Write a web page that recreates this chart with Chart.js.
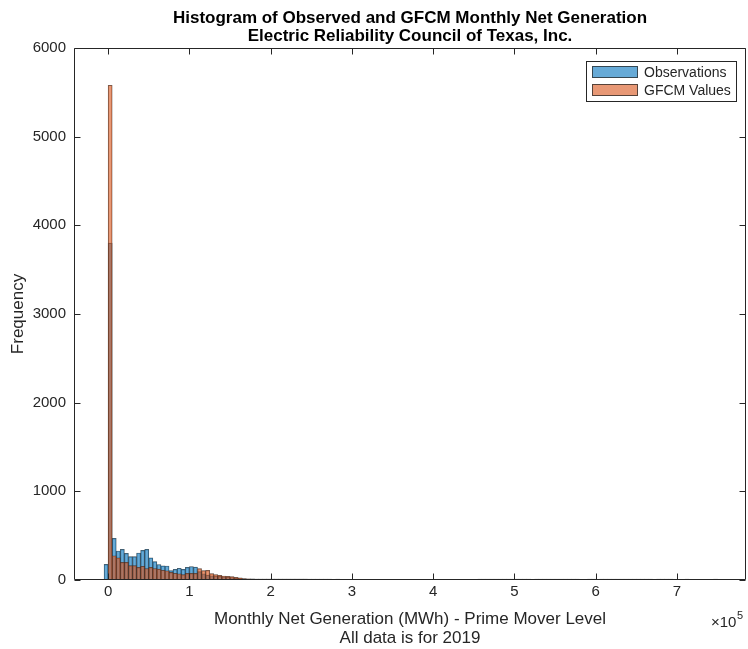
<!DOCTYPE html>
<html>
<head>
<meta charset="utf-8">
<title>Histogram of Observed and GFCM Monthly Net Generation</title>
<script src="https://cdn.jsdelivr.net/npm/chart.js@4.4.0/dist/chart.umd.min.js"></script>
<style>
  html, body { margin: 0; padding: 0; background: #fff; }
  #chart { display: block; }
</style>
</head>
<body>
<canvas id="chart" width="748" height="649"></canvas>
<script>
(function () {
    "use strict";

    // Histogram bins: 5000 MWh wide, the first one starts at -5000
    var binStart = -5000;
    var binWidth = 5000;

    // Counts per bin
    var obsCounts = [
        177, 3800, 470, 327, 346, 301, 263, 263, 305, 335,
        346, 250, 207, 175, 160, 158, 105, 120, 133, 120,
        142, 152, 146, 95, 70, 55, 48, 42, 40, 35,
        33, 28, 22, 16, 12, 10, 9, 8, 7, 6,
        6, 6, 5, 5, 5, 4, 4, 3, 3, 2,
        0, 0, 0, 0, 0, 0, 0, 0, 0, 0,
        0, 0, 0, 0, 0, 0, 0, 0, 0, 0,
        0, 0, 0, 0, 0, 0, 0, 0, 0, 0,
        0, 0, 0, 0, 0, 0, 0, 0, 0, 0,
        0, 0, 1, 1, 1, 1, 1, 1, 1, 1,
        1, 1, 1, 1, 1, 0, 1, 1, 1, 1,
        1, 1, 1, 1, 1, 1, 1, 0, 0, 1,
        1, 0, 1, 1, 1, 1, 1, 1, 1, 1,
        1, 1, 1, 1, 1, 0, 1, 1, 1, 1,
        0, 0, 0, 1, 0, 0, 0, 0, 0, 0,
        1, 0
    ];
    var gfcmCounts = [
        0, 5580, 274, 250, 198, 198, 163, 163, 143, 155,
        130, 143, 130, 122, 110, 104, 86, 76, 70, 60,
        75, 75, 75, 128, 105, 108, 72, 60, 53, 45,
        40, 38, 30, 24, 17, 14, 12, 10, 10, 9,
        9, 10, 9, 10, 9, 8, 9, 8, 7, 5,
        3, 2, 2, 1, 1, 1, 0, 1, 0, 0
    ];

    var seriesNames = ["Observations", "GFCM Values"];
    var xTicks = [0, 100000, 200000, 300000, 400000, 500000, 600000, 700000];
    var yTicks = [0, 1000, 2000, 3000, 4000, 5000, 6000];

    var FONT = "'Liberation Sans', Arial, Helvetica, sans-serif";
    var TEXT = "#262626";
    var blueFill = "rgba(0, 114, 189, 0.6)";
    var orangeFill = "rgba(217, 83, 25, 0.6)";
    var edge = "rgba(38, 38, 38, 0.75)";

    function toPoints(counts) {
        var pts = [];
        counts.forEach(function (c, i) {
            if (c > 0) {
                pts.push({x: binStart + binWidth * (i + 0.5), y: c});
            }
        });
        return pts;
    }

    function fixedTicks(list) {
        return function (s) {
            s.ticks = list.map(function (v) { return {value: v}; });
        };
    }

    // Box, inward ticks, legend and the x10^5 exponent
    var matlabAxes = {
        id: "matlabAxes",
        afterDatasetsDraw: function (chart) {
            var ctx = chart.ctx;
            var a = chart.chartArea;
            var sx = chart.scales.x, sy = chart.scales.y;
            var L = Math.round(a.left) + 0.5, R = Math.round(a.right) - 0.5;
            var T = Math.round(a.top) + 0.5, B = Math.round(a.bottom) - 0.5;
            var tl = 6;
            ctx.save();
            ctx.strokeStyle = TEXT;
            ctx.lineWidth = 1;
            ctx.beginPath();
            ctx.rect(L, T, R - L, B - T);
            xTicks.forEach(function (v) {
                var px = Math.round(sx.getPixelForValue(v)) + 0.5;
                ctx.moveTo(px, B); ctx.lineTo(px, B - tl);
                ctx.moveTo(px, T); ctx.lineTo(px, T + tl);
            });
            yTicks.forEach(function (v) {
                var py = Math.round(sy.getPixelForValue(v)) + 0.5;
                ctx.moveTo(L, py); ctx.lineTo(L + tl, py);
                ctx.moveTo(R, py); ctx.lineTo(R - tl, py);
            });
            ctx.stroke();
            ctx.restore();
        },
        afterDraw: function (chart) {
            var ctx = chart.ctx;
            var a = chart.chartArea;
            ctx.save();

            // legend
            var lx = 586.5, ly = 61.5, lw = 150, lh = 40;
            ctx.fillStyle = "#fff";
            ctx.fillRect(lx, ly, lw, lh);
            ctx.strokeStyle = TEXT;
            ctx.lineWidth = 1;
            ctx.strokeRect(lx, ly, lw, lh);
            var fills = [blueFill, orangeFill];
            ctx.font = "14px " + FONT;
            ctx.textBaseline = "middle";
            ctx.textAlign = "left";
            seriesNames.forEach(function (name, i) {
                var ry = 72 + i * 18;
                ctx.fillStyle = fills[i];
                ctx.fillRect(592, ry - 6, 46, 12);
                ctx.strokeStyle = edge;
                ctx.strokeRect(592.5, ry - 5.5, 45, 11);
                ctx.fillStyle = TEXT;
                ctx.fillText(name, 644, ry + 1);
            });

            // exponent of the x axis
            ctx.fillStyle = TEXT;
            ctx.textAlign = "left";
            ctx.textBaseline = "alphabetic";
            ctx.font = "15px " + FONT;
            ctx.fillText("\u00d710", a.right - 35, 627);
            ctx.font = "11px " + FONT;
            ctx.fillText("5", a.right - 9, 619);
            ctx.restore();
        }
    };

    var ctx = document.getElementById("chart").getContext("2d");
    var myChart = new Chart(ctx, {
        type: "bar",
        data: {
            datasets: [
                {
                    label: seriesNames[0],
                    data: toPoints(obsCounts),
                    backgroundColor: blueFill,
                    borderColor: edge,
                    borderWidth: 0.5,
                    minBarLength: 1,
                    order: 1
                },
                {
                    label: seriesNames[1],
                    data: toPoints(gfcmCounts),
                    backgroundColor: orangeFill,
                    borderColor: edge,
                    borderWidth: 0.5,
                    minBarLength: 1,
                    order: 0
                }
            ]
        },
        options: {
            responsive: false,
            animation: false,
            devicePixelRatio: 1,
            grouped: false,
            barPercentage: 1,
            categoryPercentage: 1,
            layout: {padding: {left: 0, right: 2, top: 0, bottom: 0}},
            plugins: {
                legend: {display: false},
                tooltip: {enabled: false},
                title: {
                    display: true,
                    fullSize: false,
                    text: ["Histogram of Observed and GFCM Monthly Net Generation",
                           "Electric Reliability Council of Texas, Inc."],
                    color: "#000",
                    font: {family: FONT, size: 17, weight: "bold", lineHeight: 1.1},
                    padding: {top: 8.6, bottom: 2}
                }
            },
            scales: {
                x: {
                    type: "linear",
                    offset: false,
                    min: -42000,
                    max: 785000,
                    grid: {drawOnChartArea: false, drawTicks: false, offset: false},
                    border: {display: false},
                    afterFit: function (s) { s.height = 69; },
                    afterBuildTicks: fixedTicks(xTicks),
                    ticks: {
                        padding: 3,
                        color: TEXT,
                        font: {family: FONT, size: 15},
                        maxRotation: 0,
                        autoSkip: false,
                        callback: function (v) { return String(v / 100000); }
                    },
                    title: {
                        display: true,
                        text: ["Monthly Net Generation (MWh) - Prime Mover Level", "All data is for 2019"],
                        color: TEXT,
                        font: {family: FONT, size: 17, lineHeight: 1.1},
                        padding: {top: 0, bottom: 1.6}
                    }
                },
                y: {
                    min: 0,
                    max: 6000,
                    grid: {drawOnChartArea: false, drawTicks: false},
                    border: {display: false},
                    afterFit: function (s) { s.width = 74; },
                    afterBuildTicks: fixedTicks(yTicks),
                    ticks: {
                        padding: 8,
                        color: TEXT,
                        autoSkip: false,
                        font: {family: FONT, size: 15},
                        callback: function (v) { return String(v); }
                    },
                    title: {
                        display: true,
                        text: "Frequency",
                        color: TEXT,
                        font: {family: FONT, size: 17, lineHeight: 1.1},
                        padding: {top: 9, bottom: 0}
                    }
                }
            }
        },
        plugins: [matlabAxes]
    });

})();
</script>
</body>
</html>
